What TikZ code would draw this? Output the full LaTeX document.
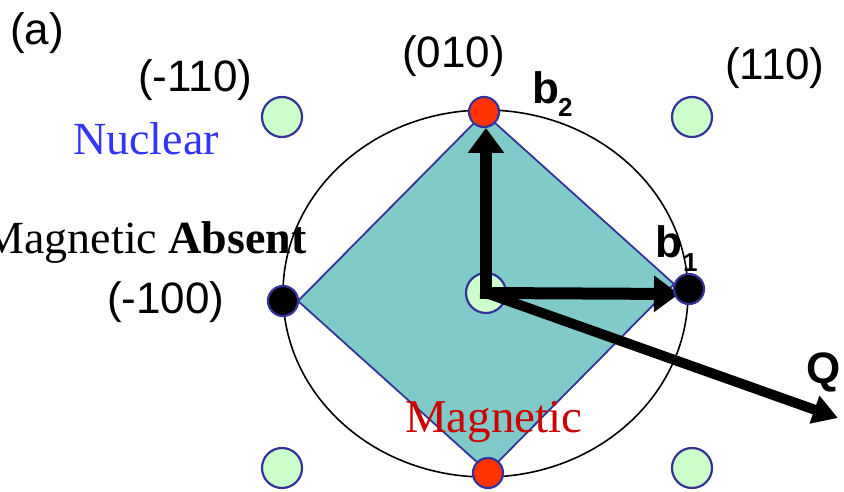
\documentclass[tikz,border=0pt]{standalone}
\usepackage{fontspec}
\setmainfont{Liberation Sans}
\newfontfamily\seriff{Liberation Serif}
\usetikzlibrary{arrows.meta}
\definecolor{edgeblue}{RGB}{51,51,153}
\definecolor{nucgreen}{RGB}{204,255,204}
\definecolor{magred}{RGB}{255,51,0}
\definecolor{teal}{RGB}{128,202,202}
\definecolor{nucblue}{RGB}{51,51,255}
\definecolor{txtred}{RGB}{204,0,0}
\tikzset{
  nuc/.style={circle, draw=edgeblue, fill=nucgreen, line width=2.2pt, minimum size=40pt, inner sep=0pt},
  magdot/.style={circle, draw=edgeblue, fill=magred, line width=2.2pt, minimum size=30pt, inner sep=0pt},
  absdot/.style={circle, draw=edgeblue, fill=black, line width=2.2pt, minimum size=30pt, inner sep=0pt},
  lbl/.style={inner sep=0pt, font=\fontsize{44}{48}\selectfont},
  sublbl/.style={inner sep=0pt, font=\fontsize{26}{30}\selectfont\bfseries},
  serlbl/.style={inner sep=0pt, font=\fontsize{46}{50}\selectfont\seriff},
  barrow/.style={line width=12pt, line cap=rect, -{Triangle[length=25pt,width=35pt]}},
  qarrow/.style={line width=10pt, -{Triangle[length=25pt,width=28pt]}}
}
\begin{document}
\begin{tikzpicture}[x=1pt,y=-1pt]
\useasboundingbox (0,0) rectangle (844,492);
% diamond
\coordinate (dt) at (484,113);
\coordinate (dr) at (674,284);
\coordinate (db) at (488,472);
\coordinate (dl) at (298,301);
\fill[teal] (dt) -- (dr) -- (db) -- (dl) -- cycle;
\draw[edgeblue, line width=1.8pt, line join=miter] (dt) -- (dr) -- (db) -- (dl) -- cycle;
% ellipse
\draw[black, line width=1.6pt] (485.5,293.5) ellipse [x radius=202.5, y radius=183.5];
% texts
\node[lbl, anchor=base west] (ta) at (10,45) {(a)};
\node[lbl, anchor=base west] (tm110) at (138,92) {(-110)};
\node[lbl, anchor=base west] (t010) at (402,68) {(010)};
\node[lbl, anchor=base west] (t110) at (725,80) {(110)};
\node[lbl, anchor=base west] (tm100) at (107,313) {(-100)};
\node[serlbl, text=nucblue, anchor=base west] (tnuc) at (73,155) {Nuclear};
\node[serlbl, anchor=base east] (tabs) at (307,253) {Magnetic \textbf{Absent}};
\node[serlbl, font=\fontsize{47}{50}\selectfont\seriff, text=txtred, anchor=base west] (tmag) at (405,432) {Magnetic};
% nuclear peaks
\node[nuc] (n110m) at (282,117) {};
\node[nuc] (n110) at (692,117) {};
\node[nuc] (nc) at (486,293) {};
\node[nuc] (nbl) at (282,468) {};
\node[nuc] (nbr) at (692,468) {};
% arrows
\coordinate (b2tip) at (486,128);
\coordinate (b1tip) at (679,294);
\coordinate (qtip) at (838,418);
\draw[qarrow] (nc.center) -- (qtip);
\draw[barrow] (nc.center) -- (b2tip);
\draw[barrow] (nc.center) -- (b1tip);
% magnetic / absent dots
\node[magdot] (m010) at (484,112) {};
\node[magdot] (m0m10) at (488,473) {};
\node[absdot] (am100) at (283,301) {};
\node[absdot] (a100) at (689,289) {};
% vector labels
\node[lbl, font=\fontsize{44}{48}\selectfont\bfseries, anchor=base west] (tb2) at (532,104) {b};
\node[sublbl, anchor=base west] (tb2s) at (558,117) {2};
\node[lbl, font=\fontsize{44}{48}\selectfont\bfseries, anchor=base west] (tb1) at (655,258) {b};
\node[sublbl, anchor=base west] (tb1s) at (683,271) {1};
\node[lbl, font=\fontsize{44}{48}\selectfont\bfseries, anchor=base west] (tq) at (806,383) {Q};
\end{tikzpicture}
\end{document}
